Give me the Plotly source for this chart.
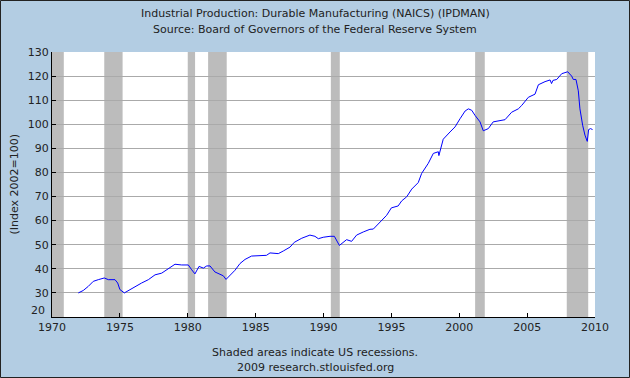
import plotly.graph_objects as go

# Decimal years and index values
years = [1971.94, 1972.3, 1972.67, 1973.04, 1973.41, 1973.85, 1974.15, 1974.64, 1974.84,
         1975.0, 1975.33, 1975.75, 1976.11, 1976.6, 1977.1, 1977.59, 1978.08, 1978.57,
         1979.06, 1979.55, 1980.04, 1980.29, 1980.53, 1980.83, 1981.15, 1981.4, 1981.64,
         1982.0, 1982.38, 1982.62, 1982.82, 1983.1, 1983.48, 1983.85, 1984.22, 1984.7,
         1985.2, 1985.8, 1986.06, 1986.67, 1987.04, 1987.53, 1987.85, 1988.4, 1989.0,
         1989.37, 1989.62, 1989.98, 1990.48, 1990.8, 1991.17, 1991.7, 1992.07, 1992.44,
         1992.93, 1993.42, 1993.67, 1994.16, 1994.65, 1995.0, 1995.5, 1995.76, 1996.13,
         1996.5, 1996.98, 1997.23, 1997.72, 1998.09, 1998.46, 1998.5, 1998.7, 1998.82,
         1999.32, 1999.69, 2000.06, 2000.43, 2000.67, 2000.92, 2001.16, 2001.53, 2001.77,
         2002.14, 2002.5, 2003.0, 2003.37, 2003.86, 2004.35, 2004.6, 2005.09, 2005.58,
         2005.83, 2006.32, 2006.69, 2006.8, 2006.9, 2007.18, 2007.55, 2007.99, 2008.28,
         2008.4, 2008.6, 2008.77, 2008.89, 2009.09, 2009.26, 2009.43, 2009.53, 2009.67,
         2009.82]
values = [30.0, 31.0, 32.7, 34.8, 35.5, 36.2, 35.5, 35.5, 34.1,
          31.4, 30.0, 31.4, 32.7, 34.1, 35.5, 37.5, 38.2, 40.0,
          41.9, 41.6, 41.6, 39.6, 37.9, 41.0, 40.3, 41.2, 41.2,
          38.7, 37.7, 37.1, 35.6, 37.1, 39.4, 42.2, 43.9, 45.3,
          45.3, 45.6, 46.6, 46.3, 47.4, 49.0, 51.0, 52.7, 54.0,
          53.5, 52.5, 53.1, 53.5, 53.5, 49.7, 52.1, 51.4, 54.0,
          55.3, 56.4, 56.5, 59.4, 62.2, 65.3, 66.1, 68.2, 69.9,
          73.1, 75.8, 79.6, 83.8, 87.9, 88.6, 87.0, 92.1, 93.8,
          96.8, 98.9, 102.3, 105.5, 106.4, 105.8, 103.7, 101.0, 97.3,
          98.2, 101.0, 101.6, 101.9, 105.0, 106.4, 107.8, 111.2, 112.5,
          116.4, 117.7, 118.4, 116.9, 118.2, 118.6, 121.0, 121.8, 120.0,
          118.6, 118.6, 113.9, 106.4, 99.6, 95.5, 92.9, 97.8, 98.2,
          97.8]

rec_start = [1969.92, 1973.85, 1980.0, 1981.5, 1990.54, 2001.17, 2007.92]
rec_end = [1970.87, 1975.2, 1980.54, 1982.87, 1991.2, 2001.88, 2009.5]

x_ticks = [1970, 1975, 1980, 1985, 1990, 1995, 2000, 2005, 2010]
y_ticks = [20, 30, 40, 50, 60, 70, 80, 90, 100, 110, 120, 130]

W, H = 630, 378
L, R, T, B = 52, 35, 52, 61
pw, ph = W - L - R, H - T - B
CX = 315 - (L + pw / 2)  # shift so centered texts sit at the figure centre

FONT = "DejaVu Sans"
TXT = "#222222"

fig = go.Figure()
fig.add_trace(go.Scatter(x=years, y=values, mode="lines",
                         line=dict(color="#0000ff", width=1), hoverinfo="skip"))

shapes = []
for s, e in zip(rec_start, rec_end):
    shapes.append(dict(type="rect", xref="x", yref="paper", x0=max(s, 1970), x1=e,
                       y0=0, y1=1, fillcolor="#bcbcbc", line=dict(width=0),
                       layer="between"))
# outer border
shapes.append(dict(type="rect", xref="paper", yref="paper",
                   x0=-(L - 0.5) / pw, x1=1 + (R - 0.5) / pw,
                   y0=-(B - 0.5) / ph, y1=1 + (T - 0.5) / ph,
                   line=dict(color="#222222", width=1), fillcolor="rgba(0,0,0,0)",
                   layer="above"))

def note(text, ypix):
    return dict(text=text, xref="paper", yref="paper", x=0.5,
                y=1 - (ypix - T) / ph, xanchor="center", yanchor="middle",
                showarrow=False, font=dict(size=11, color=TXT), xshift=CX)

ytext = [str(v) for v in y_ticks]
ytext[0] = ""

fig.update_layout(
    width=W, height=H,
    margin=dict(l=L, r=R, t=T, b=B, pad=0),
    paper_bgcolor="#b3cde3", plot_bgcolor="#ffffff",
    showlegend=False,
    hovermode=False,
    font=dict(family=FONT, size=11, color=TXT),
    shapes=shapes,
    annotations=[
        note("Industrial Production: Durable Manufacturing (NAICS) (IPDMAN)", 13),
        note("Source: Board of Governors of the Federal Reserve System", 29),
        note("Shaded areas indicate US recessions.", 352),
        note("2009 research.stlouisfed.org", 367),
        dict(text="(Index 2002=100)", xref="paper", yref="paper",
             x=-(L - 14) / pw, y=0.5, textangle=-90,
             xanchor="center", yanchor="middle", showarrow=False,
             font=dict(size=11, color=TXT)),
        dict(text=str(y_ticks[0]), xref="paper", yref="y", x=-(L - 47) / pw,
             y=y_ticks[0], xanchor="right", yanchor="middle", yshift=7,
             showarrow=False, font=dict(size=11, color=TXT)),
    ],
    xaxis=dict(range=[1970, 2010], tickvals=x_ticks, ticktext=[str(v) for v in x_ticks],
               showgrid=False, zeroline=False, showline=True, linecolor="#000000",
               linewidth=1, ticks="inside", ticklen=4, tickcolor="#000000",
               tickfont=dict(size=11, color=TXT)),
    yaxis=dict(range=[20, 130], tickvals=y_ticks, ticktext=ytext,
               showgrid=True, gridcolor="#aaaaaa", gridwidth=1, zeroline=False,
               showline=True, linecolor="#000000", linewidth=1, ticks="inside",
               ticklen=4, tickcolor="#000000", tickfont=dict(size=11, color=TXT)),
)

fig.write_html("out.html", config={"displayModeBar": False, "staticPlot": True},
               post_script="document.body.style.margin='0';document.body.style.overflow='hidden';")
